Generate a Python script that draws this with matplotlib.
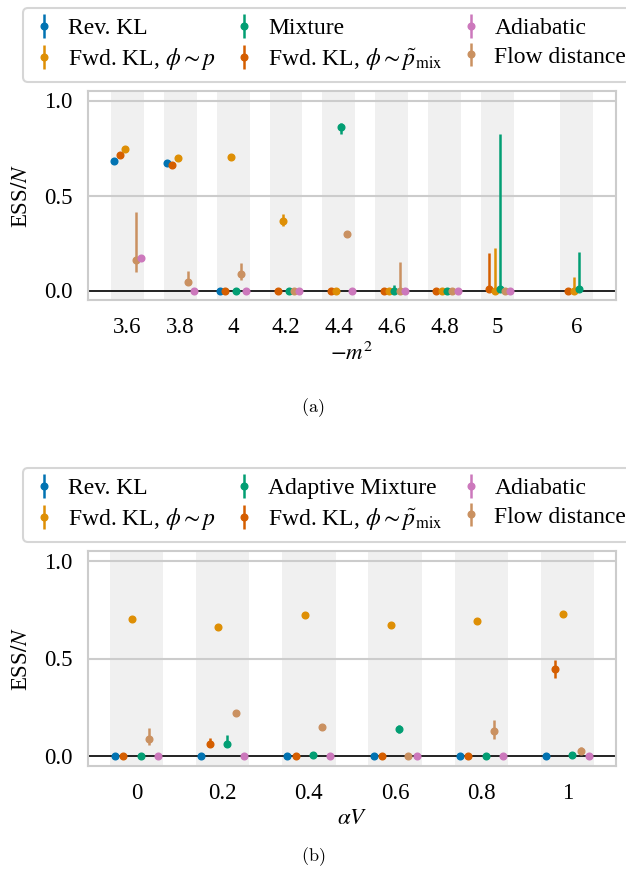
import numpy as np
import matplotlib
matplotlib.use("Agg")
import matplotlib.pyplot as plt

plt.rcParams["font.family"] = ["Liberation Serif", "DejaVu Serif"]
plt.rcParams["mathtext.fontset"] = "stix"
plt.rcParams["font.size"] = 16.5

nan = np.nan

# ---- panel (a): ESS/N versus -m^2 ----
m2_labels = ["3.6", "3.8", "4", "4.2", "4.4", "4.6", "4.8", "5", "6"]

a_rev_kl = [0.684, 0.672, 0.0, nan, nan, nan, nan, nan, nan]
a_rev_kl_lo = [0.684, 0.672, 0.0, nan, nan, nan, nan, nan, nan]
a_rev_kl_hi = [0.684, 0.672, 0.0, nan, nan, nan, nan, nan, nan]

a_fwd_mix = [0.711, 0.661, 0.0, 0.0, 0.0, 0.0, 0.0, 0.01, 0.0]
a_fwd_mix_lo = [0.711, 0.661, 0.0, 0.0, 0.0, 0.0, 0.0, 0.0, 0.0]
a_fwd_mix_hi = [0.711, 0.661, 0.012, 0.0, 0.0, 0.0, 0.0, 0.195, 0.0]

a_fwd_p = [0.744, 0.696, 0.702, 0.368, 0.0, 0.0, 0.0, 0.0, 0.0]
a_fwd_p_lo = [0.744, 0.696, 0.702, 0.338, 0.0, 0.0, 0.0, 0.0, 0.0]
a_fwd_p_hi = [0.744, 0.696, 0.702, 0.405, 0.0, 0.0, 0.0, 0.225, 0.072]

a_mixture = [nan, nan, 0.0, 0.0, 0.858, 0.0, 0.0, 0.01, 0.008]
a_mixture_lo = [nan, nan, 0.0, 0.0, 0.825, 0.0, 0.0, 0.0, 0.0]
a_mixture_hi = [nan, nan, 0.0, 0.0, 0.882, 0.03, 0.0, 0.826, 0.205]

a_flow = [0.16, 0.046, 0.089, 0.0, 0.296, 0.0, 0.0, 0.0, nan]
a_flow_lo = [0.098, 0.035, 0.056, 0.0, 0.296, 0.0, 0.0, 0.0, nan]
a_flow_hi = [0.414, 0.105, 0.147, 0.0, 0.296, 0.151, 0.0, 0.0, nan]

a_adiabatic = [0.172, 0.0, 0.0, 0.0, 0.0, 0.0, 0.0, 0.0, nan]
a_adiabatic_lo = [0.172, 0.0, 0.0, 0.0, 0.0, 0.0, 0.0, 0.0, nan]
a_adiabatic_hi = [0.172, 0.0, 0.0, 0.0, 0.0, 0.0, 0.0, 0.0, nan]

# ---- panel (b): ESS/N versus alpha V ----
alpha_labels = ["0", "0.2", "0.4", "0.6", "0.8", "1"]

b_rev_kl = [0.0, 0.0, 0.0, 0.0, 0.0, 0.0]
b_rev_kl_lo = [0.0, 0.0, 0.0, 0.0, 0.0, 0.0]
b_rev_kl_hi = [0.0, 0.0, 0.0, 0.0, 0.0, 0.0]

b_fwd_mix = [0.0, 0.062, 0.0, 0.0, 0.0, 0.444]
b_fwd_mix_lo = [0.0, 0.045, 0.0, 0.0, 0.0, 0.40]
b_fwd_mix_hi = [0.0, 0.092, 0.0, 0.0, 0.0, 0.492]

b_fwd_p = [0.701, 0.66, 0.723, 0.673, 0.692, 0.728]
b_fwd_p_lo = [0.701, 0.66, 0.723, 0.673, 0.692, 0.728]
b_fwd_p_hi = [0.701, 0.66, 0.723, 0.673, 0.692, 0.728]

b_mixture = [0.0, 0.065, 0.004, 0.138, 0.0, 0.005]
b_mixture_lo = [0.0, 0.045, 0.004, 0.12, 0.0, 0.005]
b_mixture_hi = [0.0, 0.108, 0.004, 0.162, 0.0, 0.005]

b_flow = [0.089, 0.221, 0.147, 0.003, 0.128, 0.029]
b_flow_lo = [0.056, 0.221, 0.14, 0.003, 0.089, 0.02]
b_flow_hi = [0.145, 0.221, 0.155, 0.003, 0.183, 0.048]

b_adiabatic = [0.0, 0.0, 0.0, 0.0, 0.0, 0.0]
b_adiabatic_lo = [0.0, 0.0, 0.0, 0.0, 0.0, 0.0]
b_adiabatic_hi = [0.0, 0.0, 0.0, 0.0, 0.0, 0.0]

# colorblind palette
C_BLUE = "#0173b2"
C_ORANGE = "#de8f05"
C_GREEN = "#029e73"
C_RED = "#d55e00"
C_PINK = "#cc78bc"
C_BROWN = "#ca9161"

LBL_REV = "Rev. KL"
LBL_FWD_P = r"Fwd. KL, $\phi \sim p$"
LBL_FWD_MIX = r"Fwd. KL, $\phi \sim \tilde{p}_{\mathrm{mix}}$"
LBL_FLOW = "Flow distance"
LBL_ADIA = "Adiabatic"

GRID_C = "#cccccc"
BAND_C = "#f0f0f0"

W, H = 626.0, 881.0


def draw_panel(fig, ax, x, series, legend_order, xlabel, xticklabels, xlim,
               legend_top_px):
    ax.set_xlim(*xlim)
    ax.set_ylim(-0.05, 1.05)
    for xc in x:
        ax.axvspan(xc - 0.31, xc + 0.31, color=BAND_C, lw=0, zorder=0)
    for yv in (0.5, 1.0):
        ax.axhline(yv, color=GRID_C, lw=1.5, zorder=1)
    ax.axhline(0.0, color="#111111", lw=1.3, zorder=2)

    offsets = np.linspace(-0.25, 0.25, len(series))
    handles = {}
    for off, (label, color, vals, lo, hi) in zip(offsets, series):
        vals = np.asarray(vals, float)
        lo = np.asarray(lo, float)
        hi = np.asarray(hi, float)
        yerr = np.vstack([vals - lo, hi - vals])
        h = ax.errorbar(np.asarray(x) + off, vals, yerr=yerr, fmt="o",
                        color=color, ms=4.8, elinewidth=1.8, capsize=0,
                        label=label, zorder=3)
        handles[label] = h

    for s in ax.spines.values():
        s.set_color(GRID_C)
        s.set_linewidth(1.5)
    ax.tick_params(axis="y", length=0, pad=11)
    ax.tick_params(axis="x", length=0, pad=12)
    ax.set_xticks(x)
    ax.set_xticklabels(xticklabels)
    ax.set_yticks([0.0, 0.5, 1.0])
    ax.set_yticklabels(["0.0", "0.5", "1.0"])
    ax.set_ylabel(r"ESS$/N$", labelpad=9)
    ax.set_xlabel(xlabel, labelpad=3)

    leg = fig.legend([handles[k] for k in legend_order], legend_order,
                     ncol=3, loc="upper left",
                     bbox_to_anchor=(23 / W, 1 - legend_top_px / H),
                     borderaxespad=0, frameon=True, fancybox=True,
                     edgecolor=GRID_C, fontsize=17, handlelength=1.0,
                     handletextpad=0.5, columnspacing=0.7,
                     borderpad=0.4, labelspacing=0.3)
    leg.get_frame().set_linewidth(1.5)
    return leg


fig = plt.figure(figsize=(6.26, 8.81), dpi=100)

ax_a = fig.add_axes([88 / W, 1 - 300 / H, 528 / W, 209 / H])
ax_b = fig.add_axes([88 / W, 1 - 766 / H, 528 / W, 215 / H])

x_a = np.arange(len(m2_labels), dtype=float)
x_a[-1] += 0.5  # the last value sits apart from the evenly spaced ones
series_a = [
    (LBL_REV, C_BLUE, a_rev_kl, a_rev_kl_lo, a_rev_kl_hi),
    (LBL_FWD_MIX, C_RED, a_fwd_mix, a_fwd_mix_lo, a_fwd_mix_hi),
    (LBL_FWD_P, C_ORANGE, a_fwd_p, a_fwd_p_lo, a_fwd_p_hi),
    ("Mixture", C_GREEN, a_mixture, a_mixture_lo, a_mixture_hi),
    (LBL_FLOW, C_BROWN, a_flow, a_flow_lo, a_flow_hi),
    (LBL_ADIA, C_PINK, a_adiabatic, a_adiabatic_lo, a_adiabatic_hi),
]
draw_panel(fig, ax_a, x_a, series_a,
           [LBL_REV, LBL_FWD_P, "Mixture", LBL_FWD_MIX, LBL_ADIA, LBL_FLOW],
           r"$-m^2$", m2_labels, (-0.75, 9.25), 8)

x_b = np.arange(len(alpha_labels), dtype=float)
series_b = [
    (LBL_REV, C_BLUE, b_rev_kl, b_rev_kl_lo, b_rev_kl_hi),
    (LBL_FWD_MIX, C_RED, b_fwd_mix, b_fwd_mix_lo, b_fwd_mix_hi),
    (LBL_FWD_P, C_ORANGE, b_fwd_p, b_fwd_p_lo, b_fwd_p_hi),
    ("Adaptive Mixture", C_GREEN, b_mixture, b_mixture_lo, b_mixture_hi),
    (LBL_FLOW, C_BROWN, b_flow, b_flow_lo, b_flow_hi),
    (LBL_ADIA, C_PINK, b_adiabatic, b_adiabatic_lo, b_adiabatic_hi),
]
draw_panel(fig, ax_b, x_b, series_b,
           [LBL_REV, LBL_FWD_P, "Adaptive Mixture", LBL_FWD_MIX, LBL_ADIA, LBL_FLOW],
           r"$\alpha V$", alpha_labels, (-0.56, 5.56), 468)

fig.text(313 / W, 1 - 408 / H, r"$\mathrm{(a)}$", ha="center", va="center",
         fontsize=13, math_fontfamily="cm")
fig.text(313 / W, 1 - 857 / H, r"$\mathrm{(b)}$", ha="center", va="center",
         fontsize=13, math_fontfamily="cm")

fig.savefig("out.png", dpi=100)
